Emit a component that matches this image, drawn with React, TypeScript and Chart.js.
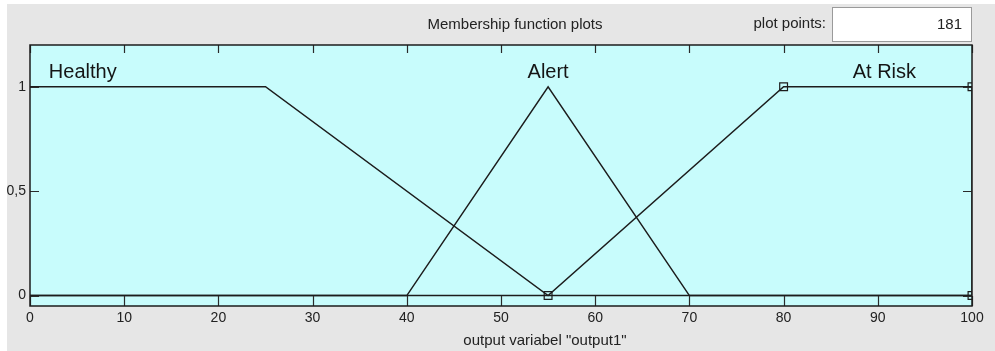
import React, { useEffect, useRef } from "react";
import { Chart, registerables } from "chart.js";

Chart.register(...registerables);

// ---- data ----
const xTicks = [0, 10, 20, 30, 40, 50, 60, 70, 80, 90, 100];
const yTicks = [0, 0.5, 1];
const yTickLabels = ["0", "0,5", "1"];
const mfNames = ["Healthy", "Alert", "At Risk"];
const healthyX = [0, 25, 55, 100];
const healthyY = [1, 1, 0, 0];
const alertX = [0, 40, 55, 70, 100];
const alertY = [0, 0, 1, 0, 0];
const atRiskX = [0, 55, 80, 100, 100];
const atRiskY = [0, 0, 1, 1, 0];
const atRiskMarked = [false, true, true, true, true];
const labelX = [5.6, 55, 90.7];
const plotPoints = "181";
const xTitle = 'output variabel "output1"';
const panelTitle = "Membership function plots";

const FONT = '"Liberation Sans", Arial, Helvetica, sans-serif';
const LINE = "#1c1c1c";
const TEXT = "#222";

const pts = (xs: number[], ys: number[]) => xs.map((x, i) => ({ x, y: ys[i] }));

const decorPlugin = {
  id: "decor",
  beforeDatasetsDraw(chart: any) {
    const { ctx, chartArea: a } = chart;
    ctx.save();
    ctx.fillStyle = "#c8fcfc";
    ctx.fillRect(a.left, a.top, a.right - a.left, a.bottom - a.top);
    ctx.restore();
  },
  afterDraw(chart: any) {
    const { ctx, chartArea: a, scales } = chart;
    const xs = scales.x;
    const ys = scales.y;
    ctx.save();
    // inward tick marks
    ctx.strokeStyle = "#2a2a2a";
    ctx.lineWidth = 1.2;
    ctx.beginPath();
    xTicks.forEach((v) => {
      const px = Math.round(xs.getPixelForValue(v)) + 0.5;
      ctx.moveTo(px, a.bottom);
      ctx.lineTo(px, a.bottom - 10);
      ctx.moveTo(px, a.top);
      ctx.lineTo(px, a.top + 8);
    });
    yTicks.forEach((v) => {
      const py = Math.round(ys.getPixelForValue(v)) + 0.5;
      ctx.moveTo(a.left, py);
      ctx.lineTo(a.left + 9, py);
      ctx.moveTo(a.right, py);
      ctx.lineTo(a.right - 9, py);
    });
    ctx.stroke();
    // frame
    ctx.strokeStyle = LINE;
    ctx.lineWidth = 1.5;
    ctx.strokeRect(a.left, a.top, a.right - a.left, a.bottom - a.top);
    // MF labels
    ctx.fillStyle = "#151515";
    ctx.font = `20px ${FONT}`;
    ctx.textAlign = "center";
    ctx.textBaseline = "alphabetic";
    const by = ys.getPixelForValue(1) - 9;
    mfNames.forEach((n, i) => {
      ctx.fillText(n, xs.getPixelForValue(labelX[i]), by);
    });
    ctx.restore();
  },
};

export default function App() {
  const ref = useRef<HTMLCanvasElement | null>(null);

  useEffect(() => {
    if (!ref.current) return;
    const lineDs = (data: any[]) => ({
      data,
      showLine: true,
      borderColor: LINE,
      borderWidth: 1.5,
      pointRadius: 0,
      fill: false,
      tension: 0,
    });
    const chart = new Chart(ref.current, {
      type: "scatter",
      data: {
        datasets: [
          { ...lineDs(pts(healthyX, healthyY)), label: mfNames[0] },
          { ...lineDs(pts(alertX, alertY)), label: mfNames[1] },
          {
            ...lineDs(pts(atRiskX, atRiskY)),
            label: mfNames[2],
            pointRadius: atRiskMarked.map((m) => (m ? 5.5 : 0)),
            pointStyle: "rect",
            pointBorderColor: LINE,
            pointBackgroundColor: "rgba(0,0,0,0)",
            pointBorderWidth: 1.2,
            clip: 0,
          } as any,
        ],
      },
      options: {
        animation: false,
        responsive: false,
        maintainAspectRatio: false,
        layout: { padding: { top: 41, right: 23, left: 0, bottom: 0 } },
        plugins: { legend: { display: false }, tooltip: { enabled: false } },
        scales: {
          x: {
            type: "linear",
            min: 0,
            max: 100,
            afterBuildTicks: (s: any) => {
              s.ticks = xTicks.map((v) => ({ value: v }));
            },
            afterFit: (s: any) => {
              s.height = 45;
            },
            ticks: {
              font: { family: FONT, size: 14 },
              color: TEXT,
              padding: 4,
              maxRotation: 0,
              autoSkip: false,
            },
            grid: { display: false, drawTicks: false },
            border: { display: false },
          },
          y: {
            type: "linear",
            min: -0.05,
            max: 1.2,
            afterBuildTicks: (s: any) => {
              s.ticks = yTicks.map((v) => ({ value: v }));
            },
            afterFit: (s: any) => {
              s.width = 23;
            },
            ticks: {
              font: { family: FONT, size: 14 },
              color: TEXT,
              padding: 4,
              callback: (_v: any, i: number) => yTickLabels[i],
            },
            grid: { display: false, drawTicks: false },
            border: { display: false },
          },
        },
      } as any,
      plugins: [decorPlugin],
    });
    return () => chart.destroy();
  }, []);

  const txt: React.CSSProperties = {
    position: "absolute",
    fontFamily: FONT,
    fontSize: 15,
    color: TEXT,
    whiteSpace: "nowrap",
    lineHeight: "18px",
  };

  return (
    <div
      style={{
        position: "fixed",
        left: 0,
        top: 0,
        width: 995,
        height: 351,
        background: "#ffffff",
        overflow: "hidden",
      }}
    >
      <div
        style={{
          position: "absolute",
          left: 7,
          top: 4,
          width: 988,
          height: 347,
          background: "#e6e6e6",
        }}
      >
        <canvas
          ref={ref}
          width={988}
          height={347}
          style={{ position: "absolute", left: 0, top: 0, width: 988, height: 347 }}
        />
      </div>
      <div style={{ ...txt, left: 515, top: 15, transform: "translateX(-50%)" }}>{panelTitle}</div>
      <div style={{ ...txt, left: 826, top: 14, transform: "translateX(-100%)" }}>plot points:</div>
      <div
        style={{
          position: "absolute",
          left: 832,
          top: 7,
          width: 138,
          height: 33,
          background: "#ffffff",
          border: "1px solid #9a9a9a",
        }}
      >
        <div style={{ ...txt, right: 9, top: 7 }}>{plotPoints}</div>
      </div>
      <div style={{ ...txt, left: 545, top: 331, transform: "translateX(-50%)" }}>{xTitle}</div>
    </div>
  );
}
